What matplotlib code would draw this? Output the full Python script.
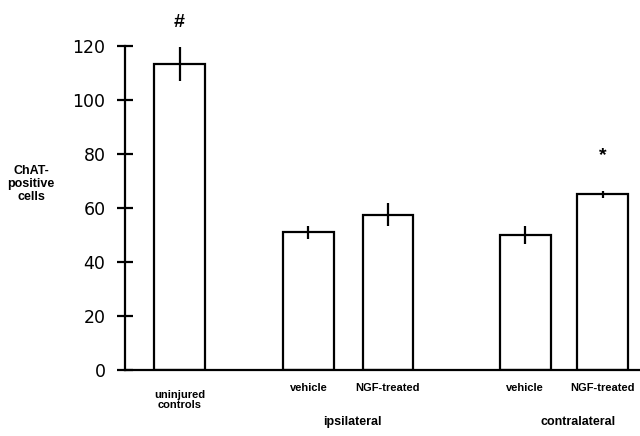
import numpy as np
from matplotlib import pyplot as plt

groups = ['uninjured\ncontrols', 'vehicle', 'NGF-treated', 'vehicle', 'NGF-treated']
counts = np.array([113.5, 51.0, 57.5, 50.0, 65.0])
errors = np.array([6.3, 2.3, 4.3, 3.3, 1.2])
sides = ['ipsilateral', 'contralateral']
marks = ['#', '', '', '', '*']

x_pos = np.array([0, 1.65, 2.67, 4.43, 5.42])
side_pos = [2.21, 5.10]
bar_width = 0.65

fig = plt.figure(figsize=(6.4, 4.36), dpi=100)
ax = fig.add_axes([125 / 640, 66 / 436, 515 / 640, 324 / 436])

ax.bar(x_pos, counts, bar_width, color='white', edgecolor='black',
       linewidth=1.6, zorder=2)
ax.errorbar(x_pos, counts, yerr=errors, fmt='none', ecolor='black',
            elinewidth=1.6, capsize=0, zorder=3)

ax.set_xlim(-0.70, 5.90)
ax.set_ylim(0, 120)
ax.set_yticks(np.arange(0, 121, 20))
ax.set_xticks([])
ax.tick_params(axis='y', direction='inout', length=12.2, width=1.6,
               pad=8, labelsize=12.5)
for s in ('top', 'right'):
    ax.spines[s].set_visible(False)
for s in ('left', 'bottom'):
    ax.spines[s].set_linewidth(1.6)

lab = dict(ha='center', va='center', fontsize=8, fontweight='bold',
           family='Liberation Sans', clip_on=False, linespacing=1.1)
for x, g in zip(x_pos, groups):
    y = -11.1 if '\n' in g else -6.7
    ax.text(x, y, g, **lab)
for x, s in zip(side_pos, sides):
    ax.text(x, -19.3, s, **{**lab, 'fontsize': 9})

for x, c, e, m in zip(x_pos, counts, errors, marks):
    if m == '#':
        ax.text(x, c + e + 9, m, ha='center', va='center', fontsize=14,
                fontweight='bold', family='Liberation Sans')
    elif m:
        ax.text(x, c + 14.5, m, ha='center', va='center', fontsize=14,
                fontweight='bold', family='Liberation Sans')

fig.text(31 / 640, 1 - 184 / 436, 'ChAT-\npositive\ncells', ha='center',
         va='center', fontsize=9, fontweight='bold', family='Liberation Sans',
         linespacing=1.1)

plt.savefig('out.png')
